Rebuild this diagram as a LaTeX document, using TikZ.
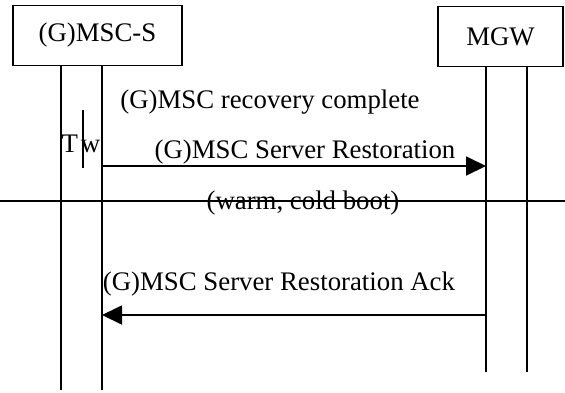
\documentclass[tikz,border=0pt]{standalone}
\usepackage{fontspec}
\setmainfont{Liberation Serif}
\usetikzlibrary{arrows.meta, positioning}

\begin{document}
\begin{tikzpicture}[x=0.5pt, y=-0.5pt, line width=0.9pt,
	font=\fontsize{13.4}{16}\selectfont,
	entity/.style={draw, minimum height=30pt, inner sep=0pt},
	msg/.style={-{Triangle[length=10pt, width=9.5pt]}},
	lbl/.style={inner sep=0pt}]
	\useasboundingbox (0,0) rectangle (565,392);

	\node[entity, minimum width=84.5pt] (mscs) at (97.5,35.5) {(G)MSC-S};
	\node[entity, minimum width=62.5pt] (mgw) at (500.5,36.5) {MGW};

	% lifelines
	\coordinate (s1top) at (61,66);  \coordinate (s1bot) at (61,390);
	\coordinate (s2top) at (102,66); \coordinate (s2bot) at (102,390);
	\coordinate (g1top) at (486,66); \coordinate (g1bot) at (486,372);
	\coordinate (g2top) at (527,66); \coordinate (g2bot) at (527,372);
	\draw (s1top) -- (s1bot);
	\draw (s2top) -- (s2bot);
	\draw (g1top) -- (g1bot);
	\draw (g2top) -- (g2bot);

	% timer
	\coordinate (tw1) at (83,110); \coordinate (tw2) at (83,168);
	\draw (tw1) -- (tw2);
	\node[lbl] (tw) at (81,144) {T\kern1.5pt w};

	% restoration
	\node[lbl] (recov) at (270,102) {(G)MSC recovery complete};
	\coordinate (rest0) at (102,166); \coordinate (rest1) at (486,166);
	\draw[msg] (rest0) -- (rest1);
	\node[lbl] (rest) at (305,152) {(G)MSC Server Restoration};
	\node[lbl] (boot) at (303,203) {(warm, cold boot)};
	\coordinate (cut0) at (0,201); \coordinate (cut1) at (565,201);
	\draw (cut0) -- (cut1);

	% acknowledgement
	\coordinate (ack0) at (486,315); \coordinate (ack1) at (102,315);
	\draw[msg] (ack0) -- (ack1);
	\node[lbl] (ack) at (279,284) {(G)MSC Server Restoration Ack};
\end{tikzpicture}
\end{document}
